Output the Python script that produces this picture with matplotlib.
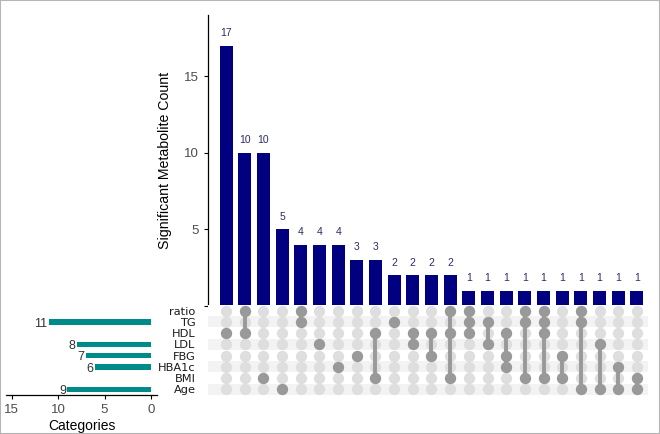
import numpy as np
import matplotlib.pyplot as plt
from matplotlib.patches import Rectangle

plt.rcParams['font.family'] = ['Liberation Sans', 'DejaVu Sans']

# sets shown in the matrix, top to bottom
set_names = ['ratio', 'TG', 'HDL', 'LDL', 'FBG', 'HBA1c', 'BMI', 'Age']
# set sizes (0 = no bar drawn)
set_sizes = [0, 11, 0, 8, 7, 6, 0, 9]

intersections = [
    ('HDL',), ('ratio', 'HDL'), ('BMI',), ('Age',), ('ratio', 'TG'),
    ('LDL',), ('HBA1c',), ('FBG',), ('HDL', 'BMI'), ('TG',),
    ('HDL', 'LDL'), ('HDL', 'FBG'), ('ratio', 'HDL', 'BMI'),
    ('ratio', 'TG', 'HDL'), ('TG', 'LDL'), ('HDL', 'FBG', 'HBA1c'),
    ('ratio', 'TG', 'BMI'), ('ratio', 'TG', 'HDL', 'BMI'), ('FBG', 'BMI'),
    ('ratio', 'TG', 'Age'), ('LDL', 'Age'), ('HBA1c', 'Age'), ('BMI', 'Age'),
]
counts = [17, 10, 10, 5, 4, 4, 4, 3, 3, 2, 2, 2, 2, 1, 1, 1, 1, 1, 1, 1, 1, 1, 1]

bar_color = '#000080'
set_color = '#008B8B'
dot_dark = '#999999'
dot_light = '#dedede'
tick_grey = '#4d4d4d'

fig = plt.figure(figsize=(6.6, 4.34), dpi=100)
fig.patches.append(Rectangle((0, 0), 1, 1, transform=fig.transFigure,
                             fill=False, edgecolor='#b5b5b5', linewidth=1.5))

xlim = (-0.97, 22.6)
x = np.arange(len(counts))

# intersection size bars
ax_bar = fig.add_axes([0.3152, 0.2949, 0.6667, 0.6705])
ax_bar.bar(x, counts, width=0.7, color=bar_color)
for xi, c in zip(x, counts):
    ax_bar.text(xi, c + 0.5, str(c), ha='center', va='bottom',
                fontsize=7.5, color='#2b2b66')
ax_bar.set_xlim(*xlim)
ax_bar.set_ylim(0, 19)
# the 0 label is hidden behind the matrix in the original
ax_bar.set_yticks([0, 5, 10, 15])
ax_bar.set_yticklabels(['', '5', '10', '15'])
ax_bar.tick_params(axis='y', labelsize=9.5, labelcolor=tick_grey, length=3, width=0.8)
ax_bar.set_xticks([])
for s in ['top', 'right', 'bottom']:
    ax_bar.spines[s].set_visible(False)
ax_bar.spines['left'].set_linewidth(0.9)
ax_bar.set_ylabel('Significant Metabolite Count', fontsize=10.2, labelpad=9)

# set size bars on the left (transparent so row labels are not hidden)
n_sets = len(set_names)
ax_set = fig.add_axes([0.0091, 0.0899, 0.2288, 0.2074])
ax_set.set_facecolor('none')
rows = np.arange(n_sets)
sizes = np.array(set_sizes)
keep = sizes > 0
ax_set.barh(rows[keep], sizes[keep], height=0.5, color=set_color)
for r, v in zip(rows[keep], sizes[keep]):
    ax_set.text(v + 0.15, r + 0.15, str(v), ha='right', va='center',
                fontsize=9, color='#333333')
ax_set.set_xlim(15.6, -0.65)
ax_set.set_ylim(n_sets - 0.5, -0.5)
ax_set.set_xticks([15, 10, 5, 0])
ax_set.tick_params(axis='x', labelsize=9.5, labelcolor=tick_grey, length=3, width=0.8)
ax_set.set_yticks([])
for s in ['top', 'right', 'left']:
    ax_set.spines[s].set_visible(False)
ax_set.spines['bottom'].set_linewidth(0.9)
ax_set.set_xlabel('Categories', fontsize=10, labelpad=2)

# matrix of dots
ax_mat = fig.add_axes([0.3152, 0.0899, 0.6667, 0.2074])
ax_mat.set_facecolor('white')
for r in range(n_sets):
    if r % 2 == 1:
        ax_mat.axhspan(r - 0.5, r + 0.5, color='#ececec', alpha=0.6, lw=0, zorder=0)
for xi, members in enumerate(intersections):
    rws = [set_names.index(m) for m in members]
    ax_mat.scatter([xi] * n_sets, range(n_sets), s=66, color=dot_light, zorder=1, lw=0)
    if len(rws) > 1:
        ax_mat.plot([xi, xi], [min(rws), max(rws)], color=dot_dark, lw=2.8, zorder=2)
    ax_mat.scatter([xi] * len(rws), rws, s=66, color=dot_dark, zorder=3, lw=0)
ax_mat.set_xlim(*xlim)
ax_mat.set_ylim(n_sets - 0.5, -0.5)
ax_mat.set_yticks(range(n_sets))
ax_mat.set_yticklabels(set_names, fontsize=8.2, color='#1a1a1a', family='DejaVu Sans')
ax_mat.tick_params(axis='y', length=0, pad=9)
ax_mat.set_xticks([])
for s in ax_mat.spines.values():
    s.set_visible(False)

fig.savefig('out.png', dpi=100)
